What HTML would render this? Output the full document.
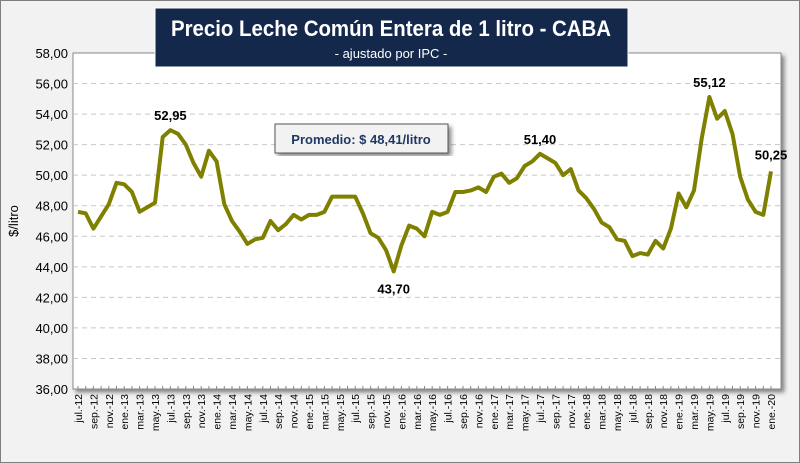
<!DOCTYPE html>
<html><head><meta charset="utf-8"><style>
body{margin:0;background:#fff;font-family:"Liberation Sans",sans-serif}
#wrap{position:relative;width:798px;height:461px;background:#f2f2f2;border:1px solid #7f7f7f}
</style></head><body>
<div id="wrap">
<svg id="chart" width="800" height="463" style="position:absolute;left:-1px;top:-1px"></svg>
</div>
<script>
const values=[47.6,47.5,46.5,47.3,48.1,49.5,49.4,48.9,47.6,47.9,48.2,52.5,52.95,52.7,52.0,50.8,49.9,51.6,50.9,48.1,47.0,46.3,45.5,45.8,45.9,47.0,46.4,46.8,47.4,47.1,47.4,47.4,47.6,48.6,48.6,48.6,48.6,47.5,46.2,45.9,45.1,43.7,45.4,46.7,46.5,46.0,47.6,47.4,47.6,48.9,48.9,49.0,49.2,48.9,49.9,50.1,49.5,49.8,50.6,50.9,51.4,51.1,50.8,50.0,50.4,49.0,48.5,47.8,46.9,46.6,45.8,45.7,44.7,44.9,44.8,45.7,45.2,46.5,48.8,47.9,49.0,52.4,55.12,53.7,54.2,52.7,49.9,48.4,47.6,47.4,50.25];
const monthNames=["ene.","feb.","mar.","abr.","may.","jun.","jul.","ago.","sep.","oct.","nov.","dic."];
const startMonth=6, startYear=12;
const yTicks=[36,38,40,42,44,46,48,50,52,54,56,58];
const annotations=[{i:12,t:"52,95",dy:-10},{i:41,t:"43,70",dy:22},{i:60,t:"51,40",dy:-10},{i:82,t:"55,12",dy:-10},{i:90,t:"50,25",dy:-12}];
const NS="http://www.w3.org/2000/svg";
const svg=document.getElementById('chart');
const L=73,R=781,T=53,B=389;
const y=v=>B-(v-36)/(58-36)*(B-T);
const x=i=>78+i*(771-78)/(values.length-1);
function mk(tag,a,parent){const e=document.createElementNS(NS,tag);for(const k in a)e.setAttribute(k,a[k]);(parent||svg).appendChild(e);return e;}
const defs=mk('defs',{});
defs.innerHTML='<filter id="sh" x="-5%" y="-5%" width="110%" height="115%"><feDropShadow dx="3" dy="3" stdDeviation="2" flood-color="#000" flood-opacity="0.45"/></filter>';
const plot=mk('rect',{x:L,y:T,width:R-L,height:B-T,fill:'#fff',stroke:'#888','stroke-width':1,filter:'url(#sh)'});


yTicks.forEach(v=>{
 if(v>36&&v<58){const g=mk('line',{x1:L,x2:R,y1:y(v),y2:y(v),stroke:'#c8c8c8','stroke-dasharray':'5,4'});
 
 }
 const t=mk('text',{x:L-5,y:y(v)+5,'text-anchor':'end','font-size':13,fill:'#000'});
 t.textContent=v.toFixed(2).replace('.',',');
 
 
});
const yt=mk('text',{x:18,y:(T+B)/2,'text-anchor':'middle','font-size':13,transform:`rotate(-90 18 ${(T+B)/2})`});
yt.textContent='$/litro';


values.forEach((v,i)=>{
 const tk=mk('line',{x1:x(i),x2:x(i),y1:B-3,y2:B,stroke:'#888'});
 
 
 if(i%2===0){const m=(startMonth+i)%12,yr=startYear+Math.floor((startMonth+i)/12);
  const t=mk('text',{x:x(i)+4,y:B+5,'text-anchor':'end','font-size':10.5,fill:'#000',transform:`rotate(-90 ${x(i)+4} ${B+5})`});
  t.textContent=monthNames[m]+'-'+yr;
  
  }
});
const line=mk('polyline',{points:values.map((v,i)=>x(i)+','+y(v)).join(' '),fill:'none',stroke:'#808000','stroke-width':4,'stroke-linejoin':'round'});


annotations.forEach(a=>{
 const t=mk('text',{x:x(a.i),y:y(values[a.i])+a.dy,'text-anchor':'middle','font-size':13,'font-weight':'bold'});
 t.textContent=a.t;
 
 
});
const tb=mk('rect',{x:155,y:8,width:473,height:59,fill:'#14284b',stroke:'#fff','stroke-width':1});


const tt=mk('text',{x:391,y:36,'text-anchor':'middle','font-size':22,'font-weight':'bold',fill:'#fff',textLength:440,lengthAdjust:'spacingAndGlyphs'});
tt.textContent='Precio Leche Común Entera de 1 litro - CABA';


const st=mk('text',{x:391,y:58,'text-anchor':'middle','font-size':13,fill:'#fff'});
st.textContent='- ajustado por IPC -';


const pb=mk('rect',{x:275,y:124,width:173,height:29,fill:'#f2f2f2',stroke:'#555','stroke-width':1,filter:'url(#sh)'});


const pt=mk('text',{x:361,y:144,'text-anchor':'middle','font-size':13,'font-weight':'bold',fill:'#1f3864'});
pt.textContent='Promedio: $ 48,41/litro';


</script>
</body></html>
